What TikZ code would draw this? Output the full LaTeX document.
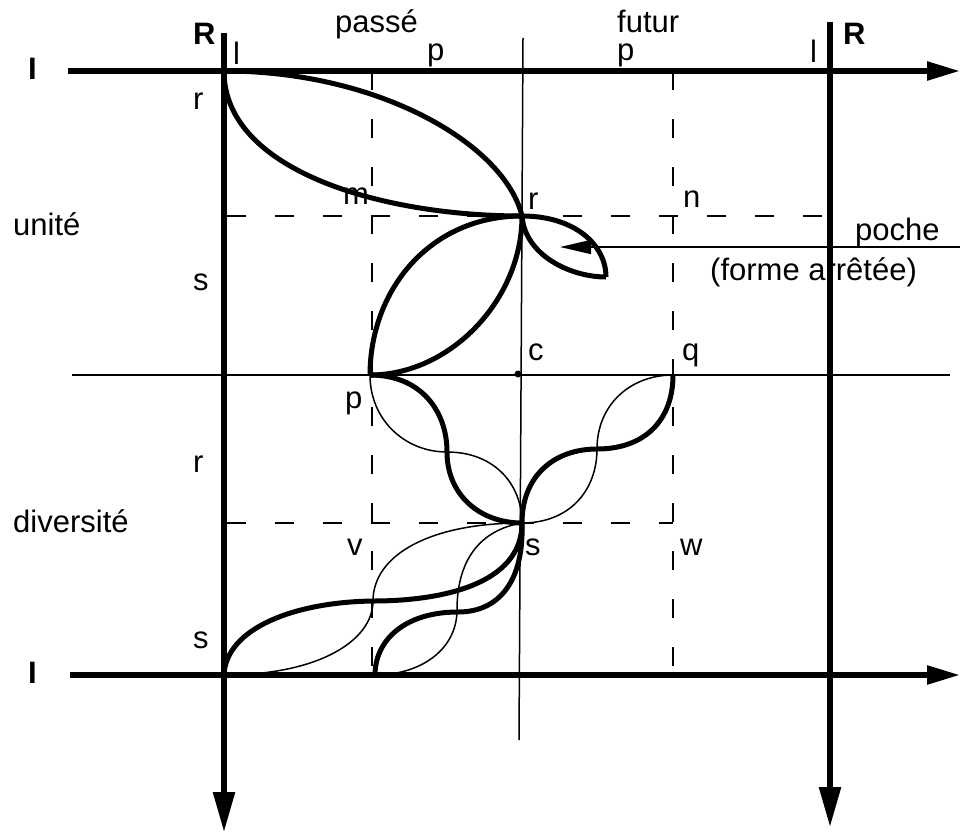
\documentclass[tikz,border=0pt]{standalone}
\usepackage{fontspec}
\setmainfont{Liberation Sans}
\usetikzlibrary{arrows.meta}
\begin{document}
\begin{tikzpicture}[x=1pt,y=-1pt,
  axis/.style={line width=5.5pt},
  thickc/.style={line width=5pt},
  thinc/.style={line width=1.5pt},
  dashl/.style={line width=1.5pt, dash pattern=on 19pt off 29pt},
  lab/.style={anchor=base west, inner sep=0pt, font=\fontsize{31}{37}\selectfont},
  blab/.style={anchor=base west, inner sep=0pt, font=\fontsize{31}{37}\selectfont\bfseries},
  harrow/.style={-{Triangle[length=33pt,width=18pt]}},
  varrow/.style={-{Triangle[length=40pt,width=21pt]}}]
\useasboundingbox (0,0) rectangle (960,832);
% key points
\coordinate (O)  at (224,71);
\coordinate (r)  at (522,216);
\coordinate (p)  at (370,375);
\coordinate (s)  at (522,523);
\coordinate (q)  at (673,375);
\coordinate (BL) at (224,675);
\coordinate (BV) at (375,675);
\coordinate (pk) at (606,277);
\coordinate (m1) at (447,452);
\coordinate (m2) at (597,449);
\coordinate (m3) at (373,601);
\coordinate (m4) at (458,612);
\coordinate (m4t) at (457,610);
% thin reference lines
\coordinate (cvT) at (523,38);
\coordinate (cvB) at (519,740);
\coordinate (chL) at (72,375);
\coordinate (chR) at (950,375);
\draw[thinc] (cvT) -- (cvB);
\draw[thinc] (chL) -- (chR);
% dashed lines
\coordinate (d1T) at (372,71);  \coordinate (d1B) at (372,675);
\coordinate (d2T) at (673,71);  \coordinate (d2B) at (673,675);
\coordinate (d3L) at (227,216); \coordinate (d3R) at (830,216);
\coordinate (d4L) at (227,523); \coordinate (d4R) at (673,523);
\draw[dashl] (d1T) -- (d1B);
\draw[dashl] (d2T) -- (d2B);
\draw[dashl] (d3L) -- (d3R);
\draw[dashl] (d4L) -- (d4R);
% centre dot
\fill (518,374) circle (3.5pt);
% pocket arrow
\coordinate (paR) at (960,247);
\coordinate (paL) at (560,247);
\draw[thinc,-{Triangle[length=31pt,width=14pt]}] (paR) -- (paL);
% top lens
\draw[thickc] (O) .. controls (380,71) and (505,145) .. (r);
\draw[thickc] (O) .. controls (224,170) and (380,216) .. (r);
% second lens
\draw[thickc] (r) .. controls (430,216) and (370,290) .. (p);
\draw[thickc] (r) .. controls (522,300) and (450,375) .. (p);
% pocket
\draw[thickc] (r) .. controls (575,216) and (606,245) .. (pk);
\draw[thickc] (r) .. controls (525,255) and (570,277) .. (pk);
% p -> s
\draw[thickc] (p) .. controls (420,375) and (447,410) .. (m1) .. controls (447,495) and (480,523) .. (s);
\draw[thinc] (p) .. controls (370,420) and (405,452) .. (m1) .. controls (495,452) and (522,485) .. (s);
% s -> q
\draw[thickc] (s) .. controls (522,475) and (555,449) .. (m2) .. controls (645,449) and (673,420) .. (q);
\draw[thinc] (s) .. controls (570,523) and (597,490) .. (m2) .. controls (597,405) and (630,375) .. (q);
% s -> BL
\draw[thickc] (s) .. controls (522,585) and (440,601) .. (m3) .. controls (295,602) and (226,628) .. (BL);
\draw[thinc] (s) .. controls (430,523) and (373,555) .. (m3) .. controls (373,640) and (320,675) .. (BL);
% s -> BV
\draw[thickc] (s) .. controls (524,580) and (500,612) .. (m4) .. controls (405,612) and (375,640) .. (BV);
\draw[thinc] (s) .. controls (480,530) and (457,560) .. (m4t) .. controls (457,650) and (420,675) .. (BV);
% axes
\coordinate (LT) at (224,33);  \coordinate (LB) at (224,832);
\coordinate (RT) at (830,22);  \coordinate (RB) at (830,827);
\coordinate (TLx) at (68,71);  \coordinate (TRx) at (960,71);
\coordinate (BLx) at (70,675); \coordinate (BRx) at (960,675);
\draw[axis,varrow] (LT) -- (LB);
\draw[axis,varrow] (RT) -- (RB);
\draw[axis,harrow] (TLx) -- (TRx);
\draw[axis,harrow] (BLx) -- (BRx);
% labels
\node[blab] (RL) at (193,45) {R};
\node[blab] (RR) at (843,45) {R};
\node[blab] (IT) at (28,80) {I};
\node[blab] (IB) at (28,683) {I};
\node[lab] (l1) at (233,65) {l};
\node[lab] (l2) at (810,63) {l};
\node[lab] (p1) at (427,61) {p};
\node[lab] (p2) at (617,61) {p};
\node[lab] (passe) at (335,33) {passé};
\node[lab] (futur) at (617,33) {futur};
\node[lab] (lr1) at (193,110) {r};
\node[lab] (ls1) at (193,290) {s};
\node[lab] (lr2) at (193,472) {r};
\node[lab] (ls2) at (193,648) {s};
\node[lab] (unite) at (13,235) {unité};
\node[lab] (divers) at (13,532) {diversité};
\node[lab] (lm) at (343,204) {m};
\node[lab] (lr) at (528,209) {r};
\node[lab] (ln) at (683,207) {n};
\node[lab] (poche) at (855,240) {poche};
\node[lab] (forme) at (710,280) {(forme arrêtée)};
\node[lab] (lc) at (528,360) {c};
\node[lab] (lq) at (682,360) {q};
\node[lab] (lp) at (345,408) {p};
\node[lab] (lv) at (347,555) {v};
\node[lab] (ls) at (525,555) {s};
\node[lab] (lw) at (680,555) {w};
\end{tikzpicture}
\end{document}
